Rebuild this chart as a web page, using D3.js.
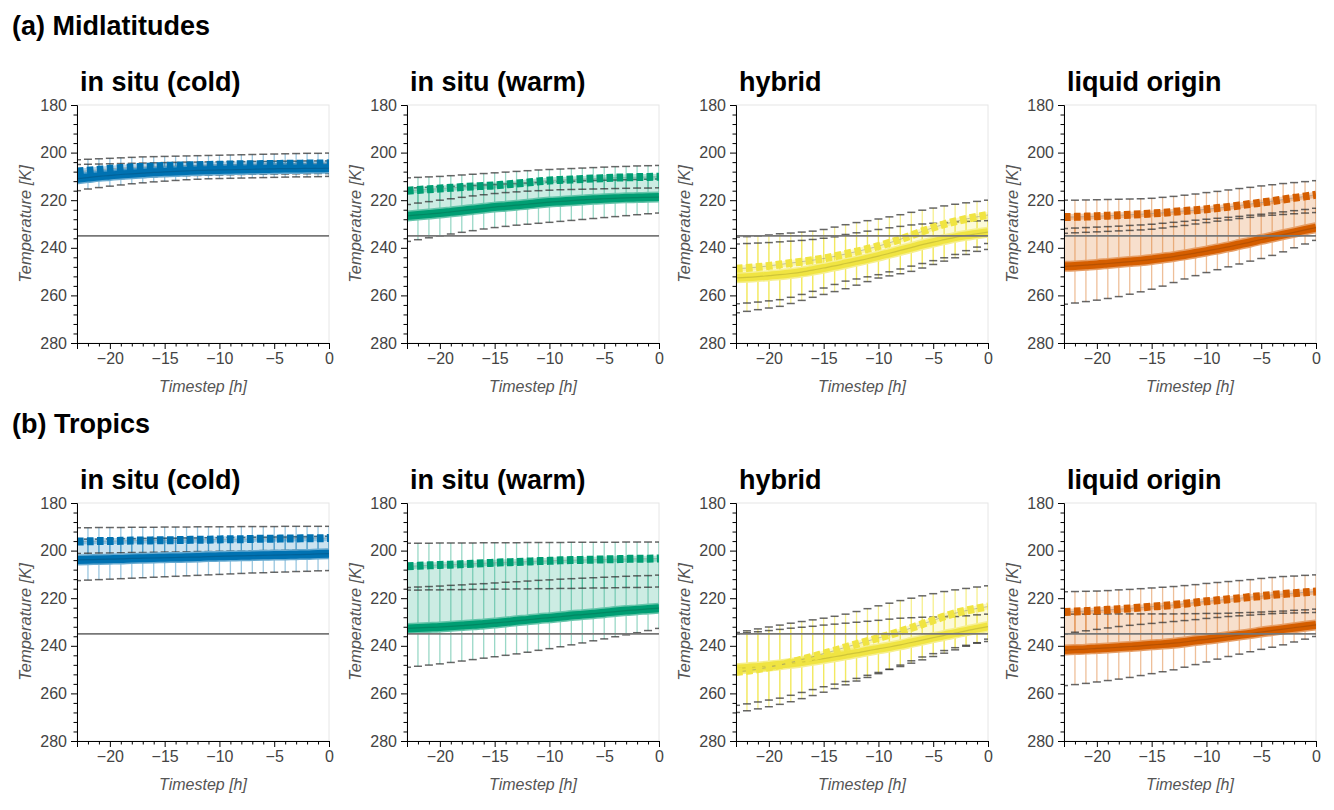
<!DOCTYPE html>
<html>
<head>
<meta charset="utf-8">
<script src="https://cdn.jsdelivr.net/npm/d3@7"></script>
<style>
  body { margin: 0; background: #fff; }
  svg text { font-family: "Liberation Sans", Arial, sans-serif; }
</style>
</head>
<body>
<svg id="chart" width="1334" height="810"></svg>
<script>
const timesteps = [-23, -22, -21, -20, -19, -18, -17, -16, -15, -14, -13, -12,
  -11, -10, -9, -8, -7, -6, -5, -4, -3, -2, -1, 0];
const xTicks = [-20, -15, -10, -5, 0];
const yTicks = [180, 200, 220, 240, 260, 280];
const rowLabels = ['(a) Midlatitudes', '(b) Tropics'];
const panelTitles = ['in situ (cold)', 'in situ (warm)', 'hybrid', 'liquid origin'];
const panelColors = ['#0072B2', '#009E73', '#F0E442', '#D55E00'];
const freezingTemp = 235;

// (a) midlatitudes - in situ (cold)
const midColdSolid = [211.0, 210.5, 210.0, 209.6, 209.2, 208.9, 208.6, 208.3, 208.1, 207.9, 207.7, 207.5, 207.4, 207.3, 207.2, 207.1, 207.0, 206.9, 206.8, 206.7, 206.7, 206.6, 206.6, 206.5];
const midColdSolidMin = [205.0, 204.9, 204.8, 204.7, 204.6, 204.5, 204.4, 204.3, 204.2, 204.1, 204.0, 204.0, 203.9, 203.9, 203.8, 203.8, 203.7, 203.7, 203.6, 203.6, 203.6, 203.5, 203.5, 203.5];
const midColdSolidMax = [216.0, 215.3, 214.7, 214.1, 213.6, 213.1, 212.7, 212.3, 212.0, 211.7, 211.4, 211.2, 211.0, 210.9, 210.8, 210.7, 210.6, 210.5, 210.4, 210.3, 210.2, 210.2, 210.1, 210.0];
const midColdDotted = [208.0, 207.6, 207.2, 206.8, 206.5, 206.2, 206.0, 205.8, 205.6, 205.5, 205.4, 205.3, 205.2, 205.1, 205.0, 204.9, 204.9, 204.8, 204.8, 204.7, 204.7, 204.6, 204.6, 204.5];
const midColdDottedMin = [203.0, 202.8, 202.6, 202.4, 202.2, 202.0, 201.8, 201.7, 201.6, 201.5, 201.4, 201.3, 201.2, 201.1, 201.0, 200.9, 200.8, 200.7, 200.6, 200.5, 200.4, 200.3, 200.3, 200.2];
const midColdDottedMax = [212.5, 212.0, 211.6, 211.2, 210.9, 210.6, 210.4, 210.2, 210.0, 209.8, 209.7, 209.6, 209.5, 209.4, 209.3, 209.2, 209.1, 209.1, 209.0, 209.0, 208.9, 208.9, 208.8, 208.8];

// (a) midlatitudes - in situ (warm)
const midWarmSolid = [226.6, 226.2, 225.8, 225.4, 224.9, 224.4, 223.9, 223.4, 222.9, 222.5, 222.1, 221.7, 221.2, 220.8, 220.5, 220.2, 219.9, 219.6, 219.4, 219.2, 219.0, 218.9, 218.8, 218.7];
const midWarmSolidMin = [215.0, 214.8, 214.6, 214.4, 214.2, 214.0, 213.8, 213.6, 213.4, 213.2, 213.0, 212.8, 212.6, 212.4, 212.2, 212.0, 211.8, 211.7, 211.6, 211.5, 211.4, 211.3, 211.2, 211.1];
const midWarmSolidMax = [237.3, 236.6, 235.8, 235.0, 234.2, 233.5, 232.8, 232.1, 231.5, 231.0, 230.5, 230.1, 229.7, 229.3, 228.9, 228.5, 228.1, 227.7, 227.3, 226.9, 226.5, 226.1, 225.7, 225.4];
const midWarmDotted = [216.0, 215.7, 215.4, 215.1, 214.8, 214.5, 214.2, 214.0, 213.8, 213.4, 213.0, 212.6, 212.1, 211.7, 211.5, 211.3, 211.1, 210.9, 210.7, 210.5, 210.4, 210.3, 210.2, 210.1];
const midWarmDottedMin = [210.6, 210.4, 210.2, 210.0, 209.7, 209.4, 209.1, 208.8, 208.5, 208.2, 207.9, 207.6, 207.3, 207.1, 206.9, 206.7, 206.5, 206.3, 206.1, 205.9, 205.8, 205.6, 205.5, 205.4];
const midWarmDottedMax = [221.8, 221.2, 220.6, 220.0, 219.4, 218.8, 218.2, 217.7, 217.2, 216.8, 216.5, 216.2, 216.0, 215.8, 215.6, 215.5, 215.4, 215.3, 215.2, 215.1, 215.0, 214.9, 214.9, 214.8];

// (a) midlatitudes - hybrid
const midHybSolid = [252.6, 252.4, 252.1, 251.7, 251.3, 250.8, 250.2, 249.4, 248.5, 247.6, 246.6, 245.6, 244.6, 243.5, 242.3, 241.1, 239.9, 238.7, 237.6, 236.6, 235.6, 234.8, 234.1, 233.4];
const midHybSolidMin = [238.4, 238.2, 238.0, 237.8, 237.5, 237.2, 236.9, 236.5, 236.0, 235.4, 234.4, 233.7, 233.0, 232.3, 231.6, 231.0, 230.4, 230.0, 229.7, 229.4, 229.1, 228.9, 228.7, 228.6];
const midHybSolidMax = [267.3, 266.7, 266.0, 265.3, 264.6, 263.4, 262.1, 260.8, 259.6, 258.4, 257.2, 255.7, 254.2, 252.7, 251.8, 250.9, 249.9, 248.5, 247.0, 245.6, 244.2, 242.8, 241.5, 240.7];
const midHybDotted = [248.8, 248.5, 248.1, 247.6, 247.0, 246.4, 245.8, 245.2, 244.5, 243.6, 242.6, 241.6, 240.5, 239.3, 237.9, 236.4, 234.8, 233.1, 231.5, 230.1, 228.9, 227.9, 227.0, 226.2];
const midHybDottedMin = [235.5, 235.3, 235.0, 234.6, 234.1, 233.8, 233.4, 233.0, 232.3, 231.3, 230.3, 229.4, 228.6, 227.9, 227.0, 226.1, 225.1, 224.2, 223.3, 222.4, 221.7, 221.1, 220.5, 220.0];
const midHybDottedMax = [263.5, 263.2, 262.8, 262.3, 261.8, 260.8, 259.6, 258.3, 256.9, 255.4, 254.0, 253.1, 252.2, 251.3, 250.1, 248.9, 247.7, 246.6, 245.4, 244.2, 242.8, 241.2, 239.7, 238.2];

// (a) midlatitudes - liquid origin
const midLiqSolid = [247.8, 247.6, 247.3, 247.0, 246.6, 246.2, 245.8, 245.4, 244.9, 244.3, 243.7, 243.0, 242.2, 241.4, 240.5, 239.6, 238.6, 237.6, 236.5, 235.5, 234.5, 233.5, 232.5, 231.5];
const midLiqSolidMin = [231.9, 231.7, 231.5, 231.3, 231.1, 230.9, 230.6, 230.4, 230.1, 229.7, 229.3, 228.9, 228.4, 228.0, 227.6, 227.2, 226.8, 226.3, 225.9, 225.4, 224.9, 224.4, 223.9, 223.4];
const midLiqSolidMax = [263.7, 263.2, 262.6, 262.0, 261.3, 260.5, 259.5, 258.5, 257.4, 256.1, 254.6, 253.1, 251.7, 250.4, 249.2, 248.0, 246.8, 245.6, 244.5, 243.2, 241.7, 240.0, 238.4, 236.9];
const midLiqDotted = [227.1, 227.0, 226.9, 226.7, 226.5, 226.3, 226.1, 225.9, 225.6, 225.3, 224.9, 224.5, 224.2, 223.8, 223.3, 222.8, 222.2, 221.6, 221.0, 220.4, 219.7, 219.0, 218.4, 217.7];
const midLiqDottedMin = [220.0, 220.0, 219.9, 219.8, 219.7, 219.6, 219.5, 219.4, 219.2, 218.8, 218.4, 217.9, 217.4, 216.8, 216.3, 215.7, 215.1, 214.6, 214.0, 213.5, 213.0, 212.6, 212.2, 211.8];
const midLiqDottedMax = [233.9, 233.7, 233.5, 233.3, 233.1, 232.9, 232.7, 232.5, 232.2, 231.7, 231.1, 230.6, 230.0, 229.4, 228.8, 228.3, 227.7, 227.2, 226.6, 226.3, 226.0, 225.7, 225.4, 225.2];

// (b) tropics - in situ (cold)
const troColdSolid = [203.9, 203.8, 203.7, 203.6, 203.5, 203.3, 203.2, 203.1, 203.0, 202.9, 202.8, 202.7, 202.5, 202.4, 202.3, 202.2, 202.1, 202.0, 201.9, 201.8, 201.7, 201.6, 201.4, 201.3];
const troColdSolidMin = [195.3, 195.2, 195.2, 195.1, 195.0, 195.0, 194.9, 194.9, 194.8, 194.8, 194.7, 194.7, 194.6, 194.6, 194.5, 194.5, 194.4, 194.4, 194.3, 194.3, 194.2, 194.2, 194.1, 194.0];
const troColdSolidMax = [212.6, 212.4, 212.2, 212.0, 211.8, 211.6, 211.4, 211.2, 211.0, 210.8, 210.6, 210.4, 210.2, 210.0, 209.8, 209.6, 209.4, 209.3, 209.1, 209.0, 208.8, 208.7, 208.5, 208.4];
const troColdDotted = [196.2, 196.1, 196.0, 196.0, 195.9, 195.8, 195.8, 195.7, 195.6, 195.6, 195.5, 195.4, 195.4, 195.3, 195.2, 195.2, 195.1, 195.0, 195.0, 194.9, 194.9, 194.8, 194.8, 194.7];
const troColdDottedMin = [190.4, 190.4, 190.3, 190.3, 190.3, 190.2, 190.2, 190.2, 190.1, 190.1, 190.1, 190.0, 190.0, 190.0, 190.0, 189.9, 189.9, 189.9, 189.9, 189.8, 189.8, 189.8, 189.8, 189.8];
const troColdDottedMax = [201.2, 201.1, 201.0, 201.0, 200.9, 200.8, 200.8, 200.7, 200.6, 200.6, 200.5, 200.4, 200.4, 200.3, 200.2, 200.2, 200.1, 200.0, 200.0, 199.9, 199.8, 199.8, 199.7, 199.6];

// (b) tropics - in situ (warm)
const troWarmSolid = [232.7, 232.5, 232.3, 232.1, 231.8, 231.5, 231.2, 230.8, 230.4, 230.0, 229.5, 229.1, 228.6, 228.2, 227.8, 227.3, 226.9, 226.5, 226.1, 225.6, 225.2, 224.9, 224.5, 224.2];
const troWarmSolidMin = [215.5, 215.3, 215.1, 214.9, 214.6, 214.4, 214.1, 213.9, 213.6, 213.3, 213.1, 212.8, 212.5, 212.3, 212.0, 211.8, 211.6, 211.4, 211.2, 211.0, 210.8, 210.6, 210.5, 210.3];
const troWarmSolidMax = [249.0, 248.6, 248.1, 247.6, 247.0, 246.4, 245.8, 245.2, 244.6, 244.0, 243.4, 242.7, 241.9, 241.2, 240.4, 239.6, 238.8, 237.9, 237.1, 236.2, 235.4, 234.5, 233.6, 232.7];
const troWarmDotted = [206.6, 206.4, 206.2, 206.0, 205.9, 205.7, 205.5, 205.3, 205.1, 204.9, 204.8, 204.6, 204.4, 204.3, 204.1, 204.0, 203.9, 203.8, 203.7, 203.6, 203.5, 203.4, 203.4, 203.3];
const troWarmDottedMin = [196.9, 196.9, 196.9, 196.8, 196.8, 196.8, 196.8, 196.7, 196.7, 196.7, 196.7, 196.6, 196.6, 196.6, 196.6, 196.5, 196.5, 196.5, 196.5, 196.5, 196.4, 196.4, 196.4, 196.4];
const troWarmDottedMax = [216.6, 216.6, 216.5, 216.5, 216.4, 216.4, 216.3, 216.3, 216.2, 216.2, 216.1, 216.1, 216.0, 216.0, 215.9, 215.9, 215.8, 215.7, 215.7, 215.6, 215.5, 215.5, 215.4, 215.3];

// (b) tropics - hybrid
const troHybSolid = [249.6, 249.3, 248.9, 248.5, 248.0, 247.4, 246.8, 246.1, 245.4, 244.6, 243.8, 243.0, 242.1, 241.3, 240.5, 239.6, 238.6, 237.6, 236.6, 235.6, 234.7, 233.7, 232.8, 231.9];
const troHybSolidMin = [234.9, 234.5, 234.1, 233.6, 233.1, 232.6, 232.2, 231.8, 231.3, 230.9, 230.5, 230.1, 229.7, 229.3, 228.8, 228.4, 228.2, 228.0, 227.9, 227.8, 227.7, 227.4, 227.0, 226.7];
const troHybSolidMax = [268.0, 267.3, 266.5, 265.6, 264.6, 263.5, 262.2, 260.9, 259.5, 258.0, 256.4, 254.8, 253.3, 251.7, 249.9, 248.1, 246.3, 244.7, 243.3, 242.0, 240.8, 239.8, 238.9, 238.2];
const troHybDotted = [251.0, 250.5, 249.8, 249.0, 248.1, 247.0, 245.8, 244.6, 243.3, 242.0, 240.6, 239.3, 238.0, 236.7, 235.4, 234.0, 232.5, 230.9, 229.3, 227.7, 226.3, 225.2, 224.3, 223.5];
const troHybDottedMin = [234.4, 233.7, 232.9, 232.1, 231.3, 230.5, 229.8, 229.1, 228.4, 227.6, 226.7, 225.6, 224.4, 223.2, 222.1, 221.0, 220.0, 219.0, 218.1, 217.2, 216.5, 215.9, 215.3, 214.8];
const troHybDottedMax = [265.0, 264.4, 263.6, 262.8, 262.0, 260.8, 259.6, 258.4, 257.2, 256.1, 255.0, 253.7, 252.4, 251.2, 249.9, 248.7, 247.3, 245.9, 244.5, 243.1, 241.7, 240.2, 238.7, 237.2];

// (b) tropics - liquid origin
const troLiqSolid = [241.8, 241.6, 241.4, 241.1, 240.9, 240.6, 240.3, 240.0, 239.6, 239.3, 238.9, 238.4, 237.8, 237.3, 236.7, 236.1, 235.5, 234.9, 234.2, 233.6, 233.0, 232.4, 231.8, 231.2];
const troLiqSolidMin = [226.7, 226.7, 226.7, 226.7, 226.6, 226.6, 226.6, 226.6, 226.6, 226.6, 226.6, 226.5, 226.5, 226.4, 226.4, 226.3, 226.1, 226.0, 225.8, 225.6, 225.4, 225.1, 224.9, 224.6];
const troLiqSolidMax = [256.7, 256.3, 255.8, 255.2, 254.6, 254.0, 253.3, 252.5, 251.7, 250.9, 250.1, 249.0, 247.9, 246.8, 245.6, 244.5, 243.5, 242.5, 241.5, 240.6, 239.6, 238.4, 237.2, 236.1];
const troLiqDotted = [225.8, 225.6, 225.4, 225.2, 224.9, 224.6, 224.3, 223.9, 223.5, 223.2, 222.8, 222.3, 221.8, 221.3, 220.9, 220.4, 220.0, 219.5, 219.1, 218.6, 218.2, 217.9, 217.5, 217.2];
const troLiqDottedMin = [217.3, 217.2, 217.1, 217.0, 216.8, 216.5, 216.3, 216.0, 215.7, 215.4, 215.1, 214.7, 214.3, 213.8, 213.4, 213.0, 212.6, 212.2, 211.7, 211.3, 210.9, 210.7, 210.4, 210.2];
const troLiqDottedMax = [235.0, 234.3, 233.7, 233.1, 232.5, 231.9, 231.4, 231.0, 230.6, 230.2, 229.8, 229.4, 229.0, 228.5, 228.1, 227.7, 227.4, 227.1, 226.8, 226.5, 226.3, 226.2, 226.1, 226.0];

// panel table built from the arrays above
const panels = [
  [midColdSolid, midColdSolidMin, midColdSolidMax, midColdDotted, midColdDottedMin, midColdDottedMax],
  [midWarmSolid, midWarmSolidMin, midWarmSolidMax, midWarmDotted, midWarmDottedMin, midWarmDottedMax],
  [midHybSolid, midHybSolidMin, midHybSolidMax, midHybDotted, midHybDottedMin, midHybDottedMax],
  [midLiqSolid, midLiqSolidMin, midLiqSolidMax, midLiqDotted, midLiqDottedMin, midLiqDottedMax],
  [troColdSolid, troColdSolidMin, troColdSolidMax, troColdDotted, troColdDottedMin, troColdDottedMax],
  [troWarmSolid, troWarmSolidMin, troWarmSolidMax, troWarmDotted, troWarmDottedMin, troWarmDottedMax],
  [troHybSolid, troHybSolidMin, troHybSolidMax, troHybDotted, troHybDottedMin, troHybDottedMax],
  [troLiqSolid, troLiqSolidMin, troLiqSolidMax, troLiqDotted, troLiqDottedMin, troLiqDottedMax]
].map((s, i) => ({
  row: Math.floor(i / 4),
  col: i % 4,
  rows: timesteps.map((t, j) => ({
    t: t,
    solid: s[0][j], solidMin: s[1][j], solidMax: s[2][j],
    dotted: s[3][j], dottedMin: s[4][j], dottedMax: s[5][j]
  }))
}));

const svg = d3.select('#chart');
const colLeft = [77, 407, 736, 1064];
const rowTop = [105, 503];
const w = 252;
const h = 238;

rowLabels.forEach((label, i) => {
  svg.append('text')
    .attr('x', 12)
    .attr('y', i === 0 ? 35 : 433)
    .attr('font-size', 27)
    .attr('font-weight', 'bold')
    .text(label);
});

function drawPanel(p, idx) {
  let color = panelColors[p.col];
  let dark = d3.color(color).darker(0.8);
  let halo = d3.interpolateRgb('#ffffff', color)(0.6);
  let left = colLeft[p.col];
  let top = rowTop[p.row];

  let g = svg.append('g').attr('transform', `translate(${left},${top})`);

  let xScale = d3.scaleLinear().domain([-23, 0]).range([0, w]);
  let yScale = d3.scaleLinear().domain([180, 280]).range([0, h]);

  g.append('clipPath').attr('id', 'clip' + idx)
    .append('rect').attr('width', w).attr('height', h);

  // light frame on top and right
  g.append('rect')
    .attr('width', w).attr('height', h)
    .attr('fill', 'none')
    .attr('stroke', '#e6e6e6');

  let plot = g.append('g').attr('clip-path', `url(#clip${idx})`);

  // shading between the two medians
  plot.append('path')
    .datum(p.rows)
    .attr('fill', color)
    .attr('fill-opacity', 0.2)
    .attr('d', d3.area()
      .x((d) => xScale(d.t))
      .y0((d) => yScale(d.solid))
      .y1((d) => yScale(d.dotted)));

  // vertical error bars
  ['solid', 'dotted'].forEach((k) => {
    plot.selectAll('.bar-' + k)
      .data(p.rows)
      .enter()
      .append('line')
      .attr('x1', (d) => xScale(d.t))
      .attr('x2', (d) => xScale(d.t))
      .attr('y1', (d) => yScale(d[k + 'Min']))
      .attr('y2', (d) => yScale(d[k + 'Max']))
      .attr('stroke', color)
      .attr('stroke-opacity', p.col === 2 ? 0.6 : 0.4)
      .attr('stroke-width', 1.3);
  });

  // caps
  ['solidMin', 'solidMax', 'dottedMin', 'dottedMax'].forEach((k) => {
    plot.selectAll('.cap-' + k)
      .data(p.rows)
      .enter()
      .append('line')
      .attr('x1', (d) => xScale(d.t) - 4)
      .attr('x2', (d) => xScale(d.t) + 4)
      .attr('y1', (d) => yScale(d[k]))
      .attr('y2', (d) => yScale(d[k]))
      .attr('stroke', '#333')
      .attr('stroke-opacity', 0.75)
      .attr('stroke-width', 1.5);
  });

  let line = (k) => d3.line()
    .x((d) => xScale(d.t))
    .y((d) => yScale(d[k]))
    .curve(d3.curveMonotoneX);

  // solid median: pale opaque halo, full core, thin dark centre
  plot.append('path').datum(p.rows)
    .attr('fill', 'none')
    .attr('stroke', halo)
    .attr('stroke-width', 11)
    .attr('d', line('solid'));
  plot.append('path').datum(p.rows)
    .attr('fill', 'none')
    .attr('stroke', color)
    .attr('stroke-width', 8)
    .attr('d', line('solid'));
  plot.append('path').datum(p.rows)
    .attr('fill', 'none')
    .attr('stroke', dark)
    .attr('stroke-opacity', 0.55)
    .attr('stroke-width', 1.2)
    .attr('d', line('solid'));

  // dotted median
  plot.append('path').datum(p.rows)
    .attr('fill', 'none')
    .attr('stroke', color)
    .attr('stroke-opacity', 0.3)
    .attr('stroke-width', 6)
    .attr('d', line('dotted'));
  plot.append('path').datum(p.rows)
    .attr('fill', 'none')
    .attr('stroke', '#888')
    .attr('stroke-opacity', 0.5)
    .attr('stroke-width', 1)
    .attr('d', line('dotted'));
  plot.append('path').datum(p.rows)
    .attr('fill', 'none')
    .attr('stroke', color)
    .attr('stroke-width', 8)
    .attr('stroke-dasharray', '6.6,3.4')
    .attr('d', line('dotted'));

  // 235 K line
  plot.append('line')
    .attr('x1', 0).attr('x2', w)
    .attr('y1', yScale(freezingTemp)).attr('y2', yScale(freezingTemp))
    .attr('stroke', '#777')
    .attr('stroke-width', 1.6);

  // AXES
  let xAxis = g.append('g')
    .attr('transform', `translate(0, ${h})`)
    .call(d3.axisBottom(xScale).tickValues(xTicks).tickSize(6).tickPadding(4));
  xAxis.append('g')
    .call(d3.axisBottom(xScale).tickValues(timesteps.filter((t) => t % 5 !== 0))
      .tickSize(3.5).tickFormat(''))
    .select('.domain').remove();

  let minorY = d3.range(180, 281, 4).filter((v) => v % 20 !== 0);
  let yAxis = g.append('g')
    .call(d3.axisLeft(yScale).tickValues(yTicks).tickSize(6).tickPadding(4));
  yAxis.append('g')
    .call(d3.axisLeft(yScale).tickValues(minorY).tickSize(3.5).tickFormat(''))
    .select('.domain').remove();

  g.selectAll('.domain').attr('stroke', '#000');
  g.selectAll('.tick line').attr('stroke', '#000');
  g.selectAll('.tick text')
    .attr('font-size', 16)
    .attr('fill', '#444')
    .attr('font-family', '"Liberation Sans", Arial, sans-serif');

  g.append('text')
    .attr('x', w / 2)
    .attr('y', h + 49)
    .attr('text-anchor', 'middle')
    .attr('font-size', 16)
    .attr('font-style', 'italic')
    .attr('fill', '#555')
    .text('Timestep [h]');

  g.append('text')
    .attr('transform', `translate(-46, ${h / 2}) rotate(-90)`)
    .attr('text-anchor', 'middle')
    .attr('font-size', 16.5)
    .attr('font-style', 'italic')
    .attr('fill', '#555')
    .text('Temperature [K]');

  g.append('text')
    .attr('x', 3)
    .attr('y', -14)
    .attr('font-size', 27)
    .attr('font-weight', 'bold')
    .text(panelTitles[p.col]);
}

panels.forEach((p, i) => drawPanel(p, i));
</script>
</body>
</html>
